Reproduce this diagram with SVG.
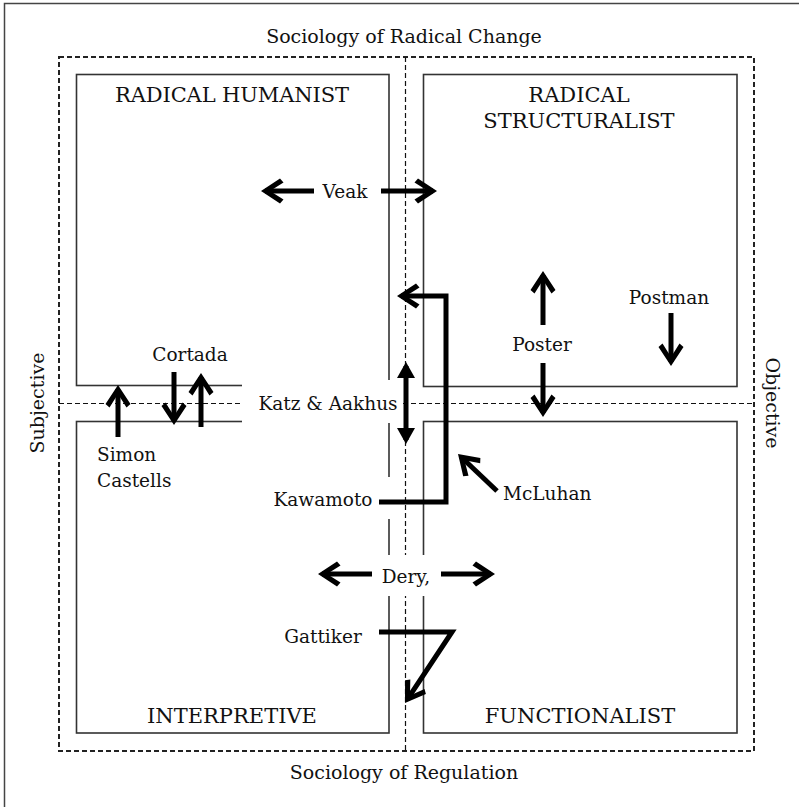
<svg xmlns="http://www.w3.org/2000/svg" width="799" height="807" viewBox="0 0 799 807">
<style>
.bg{fill:#fff}
.frame{fill:none;stroke:#444;stroke-width:1.5}
.outer{fill:none;stroke:#222;stroke-width:2;stroke-dasharray:5 3}
.axis{fill:none;stroke:#111;stroke-width:1.2;stroke-dasharray:5 3}
.box{fill:none;stroke:#333;stroke-width:1.6}
.mask{fill:#fff;stroke:none}
.t{font-family:"DejaVu Serif","Liberation Serif",serif;fill:#111}
.title{font-size:21px}
.lab{font-size:18.5px}
.soc{font-size:19px}
.mid{text-anchor:middle}
.arr{fill:none;stroke:#000;stroke-width:5;stroke-linejoin:miter;stroke-miterlimit:10}
</style>
<defs>
<marker id="chev" markerUnits="userSpaceOnUse" markerWidth="30" markerHeight="30" refX="0" refY="0" orient="auto" overflow="visible">
<polygon points="4,0 -15,-12.5 -18.5,-8.5 -5,0 -18.5,8.5 -15,12.5" fill="#000"/>
</marker>
<marker id="tri" markerUnits="userSpaceOnUse" markerWidth="30" markerHeight="30" refX="0" refY="0" orient="auto-start-reverse" overflow="visible">
<polygon points="4,0 -12,-9 -12,9" fill="#000"/>
</marker>
</defs>
<rect class="bg" x="0" y="0" width="799" height="807"/>
<path class="frame" d="M4.5,807 V3.5 H799"/>
<g id="frame-lines">
<rect class="outer" x="59" y="57" width="695" height="694"/>
<line class="axis" x1="405.5" y1="57" x2="405.5" y2="751"/>
<line class="axis" x1="59" y1="403.5" x2="754" y2="403.5"/>
</g>
<g id="radical-humanist">
<rect class="box" x="76.5" y="74.5" width="312.5" height="311"/>
<text class="t title mid" x="232" y="102" textLength="234">RADICAL HUMANIST</text>
</g>
<g id="radical-structuralist">
<rect class="box" x="423.5" y="74.5" width="313.5" height="312"/>
<text class="t title mid" x="579" y="102">RADICAL</text>
<text class="t title mid" x="579" y="128">STRUCTURALIST</text>
</g>
<g id="interpretive">
<rect class="box" x="76.5" y="421.5" width="312.5" height="311.5"/>
<text class="t title mid" x="232" y="723">INTERPRETIVE</text>
</g>
<g id="functionalist">
<rect class="box" x="423.5" y="421.5" width="313.5" height="311.5"/>
<text class="t title mid" x="580" y="723">FUNCTIONALIST</text>
</g>
<g id="label-masks">
<rect class="mask" x="242" y="380" width="159" height="43"/>
<rect class="mask" x="255" y="477" width="140" height="42"/>
<rect class="mask" x="368" y="555" width="78" height="41"/>
</g>
<g id="axis-labels">
<text class="t soc mid" x="404" y="43">Sociology of Radical Change</text>
<text class="t soc mid" x="404" y="779">Sociology of Regulation</text>
<text class="t soc mid" transform="translate(44,403) rotate(-90)">Subjective</text>
<text class="t soc mid" transform="translate(766,403) rotate(90)">Objective</text>
</g>
<g id="veak"><text class="t lab mid" x="345" y="198">Veak</text></g>
<g id="poster"><text class="t lab mid" x="542" y="351">Poster</text></g>
<g id="postman"><text class="t lab mid" x="669" y="304">Postman</text></g>
<g id="cortada"><text class="t lab mid" x="190" y="361">Cortada</text></g>
<g id="katz-aakhus"><text class="t lab mid" x="328" y="410">Katz &amp; Aakhus</text></g>
<g id="simon-castells"><text class="t lab" x="97" y="461">Simon</text><text class="t lab" x="97" y="487">Castells</text></g>
<g id="kawamoto"><text class="t lab mid" x="323" y="506">Kawamoto</text></g>
<g id="mcluhan"><text class="t lab" x="503" y="500">McLuhan</text></g>
<g id="dery"><text class="t lab mid" x="406" y="583">Dery,</text></g>
<g id="gattiker"><text class="t lab mid" x="323" y="643">Gattiker</text></g>
<g id="connectors">
<path class="arr" d="M314,191 L265,191" marker-end="url(#chev)"/>
<path class="arr" d="M381,191 L433,191" marker-end="url(#chev)"/>
<path class="arr" d="M379,502 L446,502 L446,296 L401,296" marker-end="url(#chev)"/>
<path class="arr" d="M406,366 L406,440" marker-start="url(#tri)" marker-end="url(#tri)"/>
<path class="arr" d="M543,325 L543,275" marker-end="url(#chev)"/>
<path class="arr" d="M543,363 L543,413" marker-end="url(#chev)"/>
<path class="arr" d="M671,313 L671,362" marker-end="url(#chev)"/>
<path class="arr" d="M497,491 L460.9,456.8" marker-end="url(#chev)"/>
<path class="arr" d="M174,372 L174,421" marker-end="url(#chev)"/>
<path class="arr" d="M201,427 L201,377" marker-end="url(#chev)"/>
<path class="arr" d="M118,437 L118,389" marker-end="url(#chev)"/>
<path class="arr" d="M372,574 L322,574" marker-end="url(#chev)"/>
<path class="arr" d="M441,574 L491,574" marker-end="url(#chev)"/>
<path class="arr" d="M379,632 L452,632 L407.2,699.7" marker-end="url(#chev)"/>
</g>
</svg>
